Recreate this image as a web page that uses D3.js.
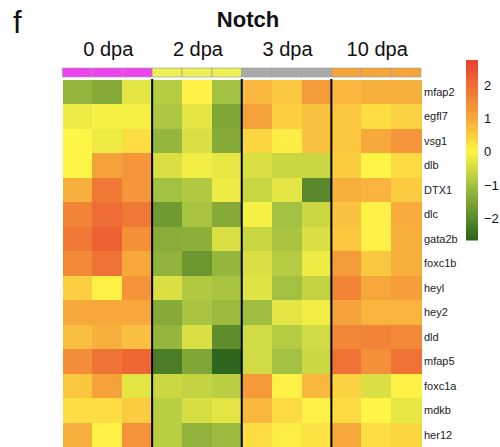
<!DOCTYPE html>
<html>
<head>
<meta charset="utf-8">
<script src="https://cdn.jsdelivr.net/npm/d3@7"></script>
<style>
  html, body { margin: 0; padding: 0; background: #ffffff; }
  svg { display: block; }
  text { font-family: "Liberation Sans", Arial, Helvetica, sans-serif; }
</style>
</head>
<body>
<svg id="chart" width="500" height="447"></svg>
<script>
const panelLetter = "f";
const title = "Notch";
const groups = ["0 dpa", "2 dpa", "3 dpa", "10 dpa"];
const groupColors = ["#ee44ee", "#eeee55", "#aaaaaa", "#f5a53a"];
const samplesPerGroup = 3;
const genes = ["mfap2","egfl7","vsg1","dlb","DTX1","dlc","gata2b","foxc1b","heyl","hey2","dld","mfap5","foxc1a","mdkb","her12"];
// z-scores per gene, columns: 0 dpa x3, 2 dpa x3, 3 dpa x3, 10 dpa x3
const zscores = [
  [-1.2, -1.4, -0.3,  -0.8,  0.05, -1.0,   0.8,  0.6,  1.2,   0.8,  0.9,  0.9],
  [-0.2, -0.1, -0.1,  -0.9, -0.3,  -1.5,   1.1,  0.5,  0.65,  0.6,  0.3,  0.45],
  [ 0.0, -0.2,  0.3,  -1.2, -0.4,  -1.4,   0.4,  0.1,  0.65,  0.6,  1.0,  1.3],
  [ 0.0,  1.1,  1.3,  -0.4, -0.15, -0.25, -0.4, -0.6, -0.6,   0.55, 0.0,  0.35],
  [ 0.9,  1.8,  1.3,  -1.0, -0.85, -0.2,  -0.6, -0.3, -2.0,   0.9,  0.85, 0.55],
  [ 1.6,  2.0,  1.8,  -1.7, -0.95, -1.4,  -0.1, -1.0, -0.55,  0.65, 0.05, 0.95],
  [ 1.8,  2.2,  1.4,  -1.35,-1.3,  -0.4,  -0.6, -0.95,-0.4,   0.6,  0.05, 0.9],
  [ 1.5,  1.9,  1.0,  -1.25,-1.75, -1.2,  -0.4, -0.8, -0.2,   1.2,  0.6,  0.9],
  [ 0.5,  0.05, 1.35, -0.4, -0.85, -0.95, -0.35,-1.0, -0.65,  1.6,  1.0,  1.15],
  [ 1.0,  1.0,  1.0,  -1.4, -0.95, -1.1,  -1.05,-0.3, -0.15,  1.1,  0.85, 0.85],
  [ 0.7,  0.9,  0.7,  -1.2, -0.4,  -1.9,  -0.5, -0.8, -0.5,   1.55, 1.6,  1.5],
  [ 1.45, 1.9,  2.1,  -2.2, -1.5,  -2.6,  -0.5, -1.0, -0.55,  1.9,  1.4,  1.9],
  [ 0.6,  1.1, -0.3,  -0.55,-0.65, -0.75,  1.25, 0.05, 0.8,   0.45,-0.4,  0.05],
  [ 0.3,  0.3,  0.55, -0.75,-0.45, -0.3,   0.8,  0.35, 0.05,  0.35, 0.0, -0.25],
  [ 0.9,  0.05, 1.35, -0.75,-1.25, -1.1,   0.3,  0.1,  0.25,  1.0,  0.3,  0.4]
];
const legendTicks = [2, 1, 0, -1, -2];
const colorStops = [-2.65, -1, 0, 1, 2.75];
const colorRange = ["#2a631c", "#a3c140", "#fff545", "#f7a83b", "#e8402e"];

const svg = d3.select("#chart");
const color = d3.scaleLinear().domain(colorStops).range(colorRange).clamp(true);

const nCols = groups.length * samplesPerGroup;
const columns = d3.range(nCols);
const x = d3.scaleBand().domain(columns).range([62.5, 421]);
const y = d3.scaleBand().domain(genes).range([79.5, 447]);

// titles
svg.append("text").attr("x", 13).attr("y", 33).attr("font-size", 31).attr("fill", "#111").text(panelLetter);
svg.append("text").attr("x", 248).attr("y", 27).attr("text-anchor", "middle")
  .attr("font-size", 22).attr("font-weight", "bold").attr("fill", "#111").text(title);

// group labels
groups.forEach((g, gi) => {
  const cx = x(gi * samplesPerGroup) + x.bandwidth() * samplesPerGroup / 2;
  svg.append("text").attr("x", cx + 1).attr("y", 56).attr("text-anchor", "middle")
    .attr("font-size", 20).attr("fill", "#111").text(g);
});

// annotation bar
svg.append("g").selectAll("rect").data(columns).join("rect")
  .attr("x", d => x(d)).attr("y", 68).attr("width", x.bandwidth()).attr("height", 9)
  .attr("fill", d => groupColors[Math.floor(d / samplesPerGroup)])
  .attr("stroke", "#9a9a9a").attr("stroke-width", 0.6);

// heatmap cells
const cells = [];
zscores.forEach((row, ri) => row.forEach((v, ci) => cells.push({ gene: genes[ri], col: ci, v })));
svg.append("g").attr("shape-rendering", "crispEdges").selectAll("rect").data(cells).join("rect")
  .attr("x", d => x(d.col)).attr("y", d => y(d.gene))
  .attr("width", x.bandwidth() + 0.5).attr("height", y.bandwidth() + 0.5)
  .attr("fill", d => color(d.v));

// group separators
d3.range(1, groups.length).forEach(gi => {
  const xx = x(gi * samplesPerGroup);
  svg.append("line").attr("x1", xx).attr("x2", xx).attr("y1", 79).attr("y2", 447)
    .attr("stroke", "#000").attr("stroke-width", 2);
});

// row labels
svg.append("g").selectAll("text").data(genes).join("text")
  .attr("x", 424).attr("y", d => y(d) + y.bandwidth() / 2 + 4)
  .attr("font-size", 11).attr("fill", "#222").text(d => d);

// color legend
const lg = { x: 466, y0: 60, y1: 240.5, w: 12 };
const ly = d3.scaleLinear().domain([colorStops[0], colorStops[colorStops.length - 1]]).range([lg.y1, lg.y0]);
const defs = svg.append("defs");
const grad = defs.append("linearGradient").attr("id", "cgrad").attr("x1", 0).attr("x2", 0).attr("y1", 1).attr("y2", 0);
colorStops.forEach((s, i) => {
  grad.append("stop")
    .attr("offset", (s - colorStops[0]) / (colorStops[colorStops.length - 1] - colorStops[0]))
    .attr("stop-color", colorRange[i]);
});
svg.append("rect").attr("x", lg.x).attr("y", lg.y0).attr("width", lg.w).attr("height", lg.y1 - lg.y0)
  .attr("fill", "url(#cgrad)");
svg.append("g").selectAll("text").data(legendTicks).join("text")
  .attr("x", lg.x + lg.w + 6).attr("y", d => ly(d) + 4.5)
  .attr("font-size", 13).attr("fill", "#111")
  .text(d => d < 0 ? "\u2212" + Math.abs(d) : String(d));
</script>
</body>
</html>
